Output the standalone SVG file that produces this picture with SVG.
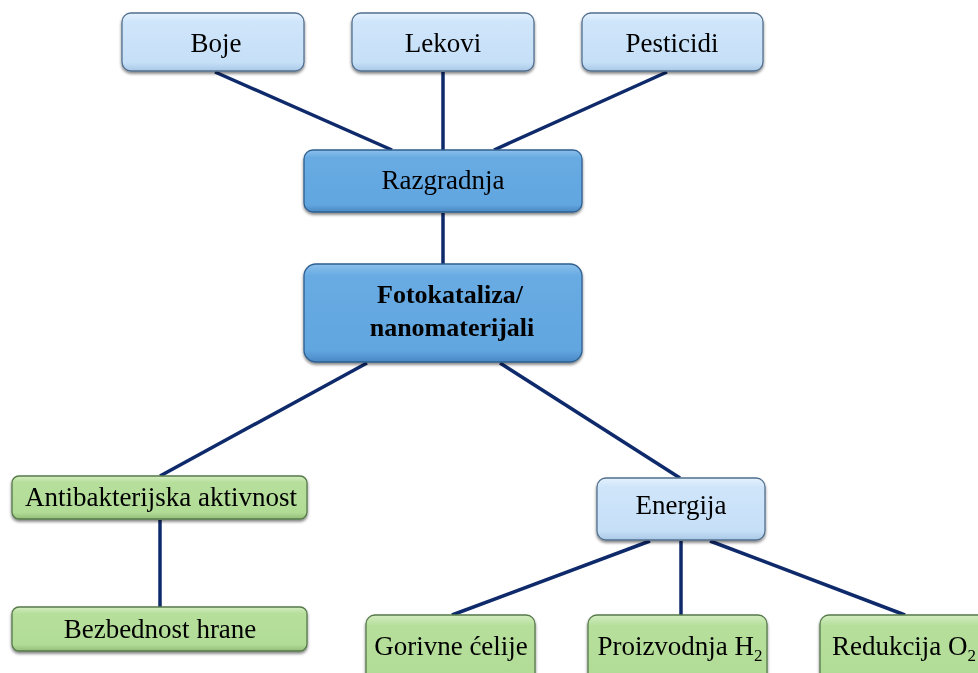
<svg xmlns="http://www.w3.org/2000/svg" width="978" height="673" viewBox="0 0 978 673">
<defs>
<linearGradient id="gLight" x1="0" y1="0" x2="0" y2="1">
<stop offset="0" stop-color="#e4f1fd"/>
<stop offset="0.15" stop-color="#cfe5fa"/>
<stop offset="0.85" stop-color="#c6e0f8"/>
<stop offset="1" stop-color="#a9c8e6"/>
</linearGradient>
<linearGradient id="gMid" x1="0" y1="0" x2="0" y2="1">
<stop offset="0" stop-color="#8cc0ec"/>
<stop offset="0.12" stop-color="#68abe3"/>
<stop offset="0.88" stop-color="#62a6e0"/>
<stop offset="1" stop-color="#4a88c4"/>
</linearGradient>
<linearGradient id="gGreen" x1="0" y1="0" x2="0" y2="1">
<stop offset="0" stop-color="#d3edc0"/>
<stop offset="0.15" stop-color="#b6df9c"/>
<stop offset="0.85" stop-color="#b1dc96"/>
<stop offset="1" stop-color="#93bd78"/>
</linearGradient>
<filter id="sh" x="-10%" y="-20%" width="120%" height="150%">
<feGaussianBlur in="SourceAlpha" stdDeviation="1.5"/>
<feOffset dx="0" dy="2" result="b"/>
<feComponentTransfer><feFuncA type="linear" slope="0.5"/></feComponentTransfer>
<feMerge><feMergeNode/><feMergeNode in="SourceGraphic"/></feMerge>
</filter>
</defs>
<style>
.light{fill:url(#gLight);stroke:#52708f;stroke-width:1.3}
.mid{fill:url(#gMid);stroke:#2f5f8f;stroke-width:1.3}
.green{fill:url(#gGreen);stroke:#56794a;stroke-width:1.3}
.box{filter:url(#sh)}
.t{font-family:"Liberation Serif","Times New Roman",serif;font-size:27px;fill:#000;text-anchor:middle}
.b{font-weight:bold;font-size:26px}
.c{stroke:#0f2a6b;stroke-width:3.5;fill:none;stroke-linecap:butt}
</style>
<g id="connectors">
<line class="c" x1="215" y1="72" x2="392" y2="150"/>
<line class="c" x1="443" y1="72" x2="443" y2="150"/>
<line class="c" x1="667" y1="72" x2="494" y2="150"/>
<line class="c" x1="443" y1="213" x2="443" y2="264"/>
<line class="c" x1="367" y1="363" x2="160" y2="476"/>
<line class="c" x1="500" y1="363" x2="680" y2="478"/>
<line class="c" x1="160" y1="520" x2="160" y2="607"/>
<line class="c" x1="650" y1="541" x2="452" y2="615"/>
<line class="c" x1="681" y1="541" x2="681" y2="615"/>
<line class="c" x1="710" y1="541" x2="905" y2="615"/>
</g>
<g id="boje" class="box"><rect class="light" x="122" y="13" width="182" height="58" rx="9"/><text class="t" x="216" y="52">Boje</text></g>
<g id="lekovi" class="box"><rect class="light" x="352" y="13" width="182" height="58" rx="9"/><text class="t" x="443" y="52">Lekovi</text></g>
<g id="pesticidi" class="box"><rect class="light" x="582" y="13" width="181" height="58" rx="9"/><text class="t" x="672" y="52">Pesticidi</text></g>
<g id="razgradnja" class="box"><rect class="mid" x="304" y="150" width="278" height="62" rx="9"/><text class="t" x="443" y="189">Razgradnja</text></g>
<g id="fotokataliza" class="box"><rect class="mid" x="304" y="264" width="278" height="98" rx="12"/><text class="t b" x="450" y="303">Fotokataliza/</text><text class="t b" x="452" y="336">nanomaterijali</text></g>
<g id="antibakterijska" class="box"><rect class="green" x="12" y="476" width="295" height="43" rx="7"/><text class="t" x="161" y="506">Antibakterijska aktivnost</text></g>
<g id="bezbednost" class="box"><rect class="green" x="12" y="607" width="295" height="44" rx="7"/><text class="t" x="160" y="638">Bezbednost hrane</text></g>
<g id="energija" class="box"><rect class="light" x="597" y="478" width="168" height="62" rx="9"/><text class="t" x="681" y="514">Energija</text></g>
<g id="gorivne" class="box"><rect class="green" x="366" y="615" width="169" height="70" rx="9"/><text class="t" x="451" y="655">Gorivne ćelije</text></g>
<g id="proizvodnja" class="box"><rect class="green" x="588" y="615" width="179" height="70" rx="9"/><text class="t" x="680" y="655">Proizvodnja H<tspan font-size="17" dy="6">2</tspan></text></g>
<g id="redukcija" class="box"><rect class="green" x="820" y="615" width="175" height="70" rx="9"/><text class="t" x="904" y="655">Redukcija O<tspan font-size="17" dy="6">2</tspan></text></g>
</svg>
